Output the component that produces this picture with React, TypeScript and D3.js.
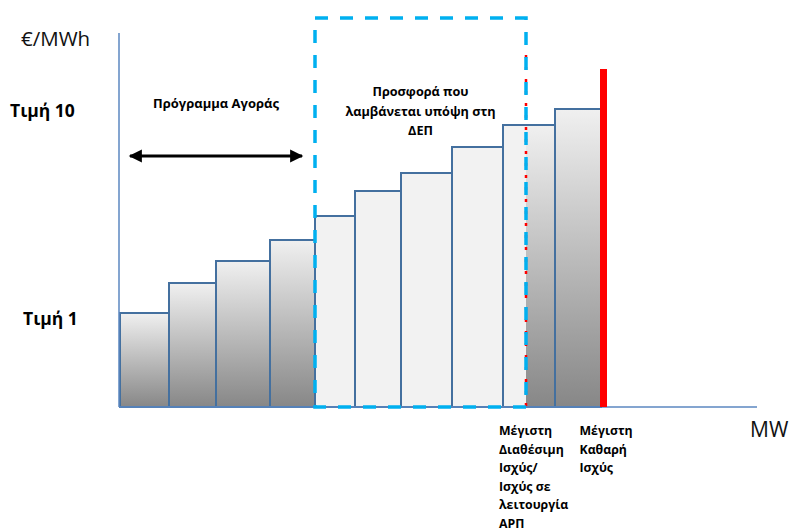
import React from "react";
import * as d3 from "d3";

// Step quantities (MW) of each offer block, left to right
const mwSteps = [9.8, 9.4, 10.8, 9, 8, 9.2, 10.2, 10.2, 10.4, 9.2];
// Offer price of each block (€/MWh, arbitrary units)
const prices = [94, 124, 146, 167, 191, 216, 234, 260, 282, 298];
// Y tick labels
const priceTickLabels = ["Τιμή 10", "Τιμή 1"];
const priceTickValues = [290, 82];
// Key MW positions
const boxRange = [39, 81.2]; // offer taken into account (dashed box)
const maxAvailable = 81.2;
const maxNet = 96.7;
const marketProgram = [1.6, 36.8];
const xLabelMaxAvailable = ["Μέγιστη", "Διαθέσιμη", "Ισχύς/", "Ισχύς σε", "λειτουργία", "ΑΡΠ"];
const xLabelMaxNet = ["Μέγιστη", "Καθαρή", "Ισχύς"];
const boxTitle = ["Προσφορά που", "λαμβάνεται υπόψη στη", "ΔΕΠ"];
const programTitle = "Πρόγραμμα Αγοράς";

const W = 793;
const H = 532;
const FONT = "'Open Sans', 'DejaVu Sans', sans-serif";

export default function App() {
  const x = d3.scaleLinear().domain([0, 127.4]).range([120, 757]);
  const y = d3.scaleLinear().domain([0, 374]).range([407, 33]);

  const starts = d3.cumsum([0, ...mwSteps.slice(0, -1)]);
  const bars = mwSteps.map((w, i) => ({
    x0: starts[i],
    x1: starts[i] + w,
    p: prices[i],
  }));

  const axisColor = "#5b87c0";
  const barStroke = "#44709f";

  return (
    <svg
      width={W}
      height={H}
      style={{ position: "absolute", left: 0, top: 0, background: "#fff" }}
      fontFamily={FONT}
    >
      <defs>
        <linearGradient id="barGrad" x1="0" y1="0" x2="0" y2="1">
          <stop offset="0%" stopColor="#f0f0f0" />
          <stop offset="100%" stopColor="#878787" />
        </linearGradient>
        <marker id="arrowEnd" viewBox="0 0 10 10" refX="9" refY="5" markerWidth="4.6" markerHeight="4.4" orient="auto" markerUnits="strokeWidth">
          <path d="M0,0 L10,5 L0,10 z" fill="#000" />
        </marker>
        <marker id="arrowStart" viewBox="0 0 10 10" refX="1" refY="5" markerWidth="4.6" markerHeight="4.4" orient="auto" markerUnits="strokeWidth">
          <path d="M10,0 L0,5 L10,10 z" fill="#000" />
        </marker>
      </defs>

      {/* bars: gradient fill */}
      {bars.map((b, i) => (
        <rect
          key={"g" + i}
          x={x(b.x0)}
          y={y(b.p)}
          width={x(b.x1) - x(b.x0)}
          height={y(0) - y(b.p)}
          fill="url(#barGrad)"
        />
      ))}
      {/* light fill inside dashed box */}
      {bars.map((b, i) => {
        const a = Math.max(b.x0, boxRange[0]);
        const c = Math.min(b.x1, boxRange[1]);
        if (c <= a) return null;
        return (
          <rect
            key={"l" + i}
            x={x(a)}
            y={y(b.p)}
            width={x(c) - x(a)}
            height={y(0) - y(b.p)}
            fill="#f2f2f2"
          />
        );
      })}
      {/* bar outlines */}
      {bars.map((b, i) => (
        <rect
          key={"s" + i}
          x={x(b.x0)}
          y={y(b.p)}
          width={x(b.x1) - x(b.x0)}
          height={y(0) - y(b.p)}
          fill="none"
          stroke={barStroke}
          strokeWidth={2}
        />
      ))}

      {/* axes */}
      <line x1={x(0) - 1} x2={x(0) - 1} y1={y(374)} y2={y(0)} stroke={axisColor} strokeWidth={1.5} />
      <line x1={x(0) - 1} x2={x(127.4)} y1={y(0)} y2={y(0)} stroke={axisColor} strokeWidth={1.5} />

      {/* max net capacity: thick red line */}
      <rect x={x(maxNet) - 3.5} y={y(338)} width={7} height={y(0) - y(338)} fill="#ff0000" />

      {/* red dashed line (max available) */}
      <line
        x1={x(maxAvailable)}
        x2={x(maxAvailable)}
        y1={y(352)}
        y2={y(0)}
        stroke="#ff0000"
        strokeWidth={2.5}
        strokeDasharray="3 9"
      />

      {/* dashed box */}
      <rect
        x={x(boxRange[0])}
        y={y(389)}
        width={x(boxRange[1]) - x(boxRange[0])}
        height={y(0) - y(389)}
        fill="none"
        stroke="#00b0f0"
        strokeWidth={3.5}
        strokeDasharray="13 12"
      />

      {/* market program arrow */}
      <line
        x1={x(marketProgram[0]) + 2}
        x2={x(marketProgram[1]) - 2}
        y1={y(251)}
        y2={y(251)}
        stroke="#000"
        strokeWidth={3}
        markerStart="url(#arrowStart)"
        markerEnd="url(#arrowEnd)"
      />

      {/* y unit */}
      <text x={21} y={46} fontSize={20.5} fill="#111">€/MWh</text>
      {/* y tick labels */}
      {priceTickLabels.map((t, i) => (
        <text
          key={t}
          x={i === 0 ? 10 : 23}
          y={y(priceTickValues[i])}
          fontSize={17.5}
          fontWeight="bold"
          fill="#000"
        >
          {t}
        </text>
      ))}

      {/* annotations */}
      <text
        x={(x(marketProgram[0]) + x(marketProgram[1])) / 2}
        y={108}
        fontSize={13}
        fontWeight="bold"
        textAnchor="middle"
        fill="#000"
      >
        {programTitle}
      </text>
      {boxTitle.map((t, i) => (
        <text
          key={t}
          x={(x(boxRange[0]) + x(boxRange[1])) / 2}
          y={96 + i * 19.5}
          fontSize={12.7}
          fontWeight="bold"
          textAnchor="middle"
          fill="#000"
        >
          {t}
        </text>
      ))}

      {/* x labels */}
      {xLabelMaxAvailable.map((t, i) => (
        <text key={"a" + i} x={x(maxAvailable) - 27} y={435 + i * 18.6} fontSize={12.3} fontWeight="bold" fill="#000">
          {t}
        </text>
      ))}
      {xLabelMaxNet.map((t, i) => (
        <text key={"n" + i} x={x(maxNet) - 24} y={435 + i * 18.6} fontSize={12.3} fontWeight="bold" fill="#000">
          {t}
        </text>
      ))}
      <text x={750} y={437} fontSize={21} fill="#111">MW</text>
    </svg>
  );
}
